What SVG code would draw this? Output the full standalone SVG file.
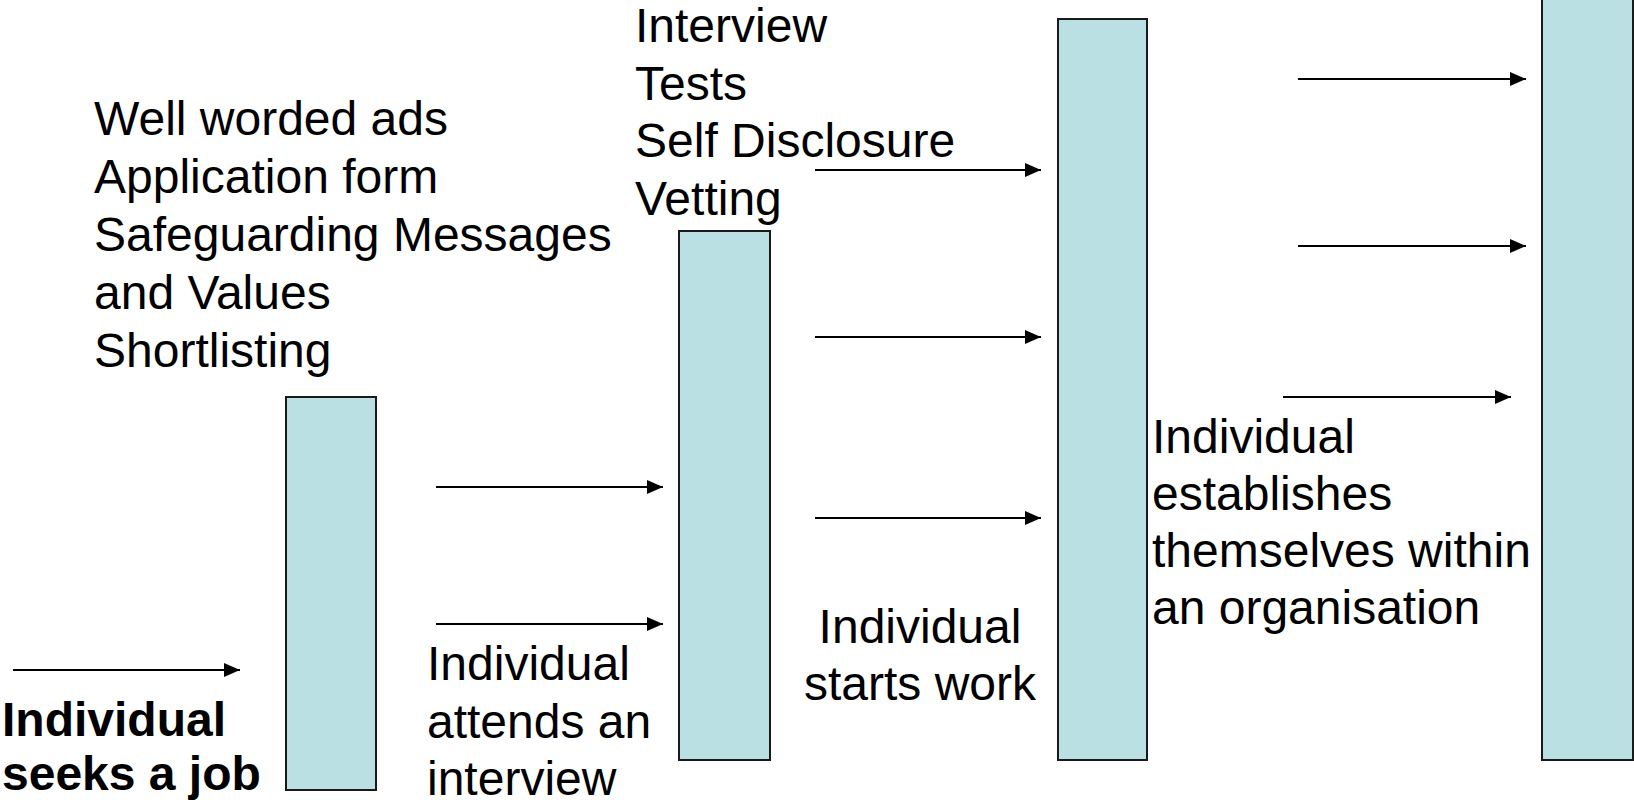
<svg xmlns="http://www.w3.org/2000/svg" width="1634" height="800" viewBox="0 0 1634 800">
<style>
  .bar { fill: #BBE0E3; stroke: #1a1a1a; stroke-width: 2; }
  .lbl { font-family: "Liberation Sans", Arial, sans-serif; font-size: 48px; fill: #000; }
  .bold { font-weight: bold; }
  .conn { stroke: #000; stroke-width: 2; fill: none; marker-end: url(#arrow); }
</style>
<defs>
  <marker id="arrow" markerUnits="userSpaceOnUse" markerWidth="17" markerHeight="15" refX="16" refY="7" orient="auto">
    <path d="M0,0 L16,7 L0,14 z" fill="#000"/>
  </marker>
</defs>
<rect x="0" y="0" width="1634" height="800" fill="#fff"/>

<g id="stage1">
  <rect class="bar" x="286" y="397" width="90" height="393"/>
</g>
<g id="stage2">
  <rect class="bar" x="679" y="231" width="91" height="529"/>
</g>
<g id="stage3">
  <rect class="bar" x="1058" y="19" width="89" height="741"/>
</g>
<g id="stage4">
  <rect class="bar" x="1542" y="-5" width="91" height="765"/>
</g>

<g id="label-seeks">
  <text class="lbl bold" x="2" y="736">Individual</text>
  <text class="lbl bold" x="2" y="790">seeks a job</text>
</g>
<g id="label-recruitment">
  <text class="lbl" x="94" y="135">Well worded ads</text>
  <text class="lbl" x="94" y="193">Application form</text>
  <text class="lbl" x="94" y="251">Safeguarding Messages</text>
  <text class="lbl" x="94" y="309">and Values</text>
  <text class="lbl" x="94" y="367">Shortlisting</text>
</g>
<g id="label-attends">
  <text class="lbl" x="427" y="680">Individual</text>
  <text class="lbl" x="427" y="738">attends an</text>
  <text class="lbl" x="427" y="795">interview</text>
</g>
<g id="label-selection">
  <text class="lbl" x="635" y="42">Interview</text>
  <text class="lbl" x="635" y="99.5">Tests</text>
  <text class="lbl" x="635" y="157">Self Disclosure</text>
  <text class="lbl" x="635" y="214.5">Vetting</text>
</g>
<g id="label-starts">
  <text class="lbl" x="920" y="643" text-anchor="middle">Individual</text>
  <text class="lbl" x="920" y="700" text-anchor="middle">starts work</text>
</g>
<g id="label-establishes">
  <text class="lbl" x="1152" y="453">Individual</text>
  <text class="lbl" x="1152" y="510">establishes</text>
  <text class="lbl" x="1152" y="567">themselves within</text>
  <text class="lbl" x="1152" y="624">an organisation</text>
</g>

<g id="connectors">
  <line class="conn" x1="13" y1="670" x2="240" y2="670"/>
  <line class="conn" x1="436" y1="487" x2="663" y2="487"/>
  <line class="conn" x1="436" y1="624" x2="663" y2="624"/>
  <line class="conn" x1="815" y1="170" x2="1041" y2="170"/>
  <line class="conn" x1="815" y1="337" x2="1041" y2="337"/>
  <line class="conn" x1="815" y1="518" x2="1041" y2="518"/>
  <line class="conn" x1="1298" y1="79" x2="1526" y2="79"/>
  <line class="conn" x1="1298" y1="246" x2="1526" y2="246"/>
  <line class="conn" x1="1283" y1="397" x2="1511" y2="397"/>
</g>
</svg>
